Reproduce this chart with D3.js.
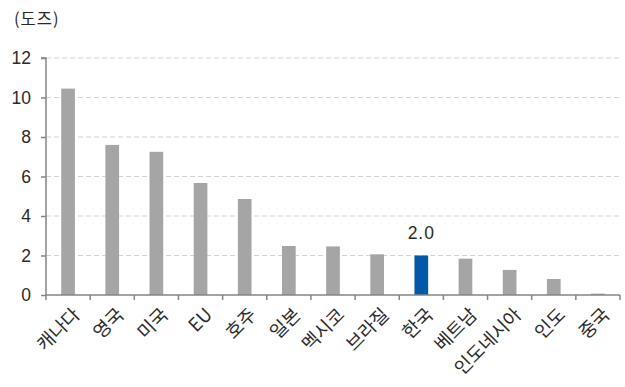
<!DOCTYPE html>
<html>
<head>
<meta charset="utf-8">
<script src="https://cdn.jsdelivr.net/npm/d3@7"></script>
<style>
  html, body { margin: 0; padding: 0; background: #fff; }
  svg { display: block; font-family: "Noto Sans CJK KR", "Noto Sans", sans-serif; }
</style>
</head>
<body>
<svg id="chart" width="625" height="387"></svg>
<script>
// Countries and doses secured per capita
const countries = ["캐나다", "영국", "미국", "EU", "호주", "일본", "멕시코", "브라질", "한국", "베트남", "인도네시아", "인도", "중국"];
const doses = [10.45, 7.6, 7.25, 5.67, 4.86, 2.48, 2.46, 2.06, 2.0, 1.84, 1.27, 0.81, 0.07];
const yTicks = [0, 2, 4, 6, 8, 10, 12];
const highlight = "한국";
const unitLabel = "(도즈)";

const svg = d3.select("#chart");
const plotLeft = 46, plotRight = 620, plotTop = 58, plotBase = 295;
const numFont = "Liberation Sans, Arial, sans-serif";
const textColor = "#2a2a2a";

const x = d3.scaleBand()
  .domain(countries)
  .range([plotLeft, plotRight])
  .paddingInner(0.69)
  .paddingOuter(0.345);

const y = d3.scaleLinear()
  .domain([0, 12])
  .range([plotBase, plotTop]);

// Dashed gridlines
svg.append("g")
  .selectAll("line")
  .data(yTicks.filter(d => d > 0))
  .join("line")
  .attr("x1", plotLeft)
  .attr("x2", plotRight)
  .attr("y1", d => y(d))
  .attr("y2", d => y(d))
  .attr("stroke", "#d4d4d4")
  .attr("stroke-width", 1.2)
  .attr("stroke-dasharray", "5,3");

// Bars
svg.append("g")
  .selectAll("rect")
  .data(countries.map((c, i) => ({ c, v: doses[i] })))
  .join("rect")
  .attr("x", d => x(d.c))
  .attr("width", x.bandwidth())
  .attr("y", d => y(d.v))
  .attr("height", d => y(0) - y(d.v))
  .attr("fill", d => d.c === highlight ? "#0059a9" : "#a5a5a5");

// Value label for highlighted bar
const hi = countries.indexOf(highlight);
svg.append("text")
  .attr("x", x(highlight) + x.bandwidth() / 2)
  .attr("y", y(doses[hi]) - 16.5)
  .attr("text-anchor", "middle")
  .attr("font-size", 17.5)
  .attr("letter-spacing", 1)
  .attr("font-family", numFont)
  .attr("fill", textColor)
  .text(doses[hi].toFixed(1));

// Y axis
const yAxis = d3.axisLeft(y).tickValues(yTicks).tickSize(5).tickPadding(10);
const gy = svg.append("g")
  .attr("transform", `translate(${plotLeft},0)`)
  .call(yAxis);
gy.select(".domain").attr("stroke", "#858585").attr("stroke-width", 1.5).attr("d", `M-5,${y(12)}H0V${y(0)}`);
gy.selectAll(".tick line").attr("stroke", "#858585").attr("stroke-width", 1.5);
gy.selectAll(".tick text")
  .attr("font-size", 17.5)
  .attr("fill", textColor)
  .attr("font-family", numFont);

// X axis with ticks on category boundaries
const step = x.step();
const boundaries = d3.range(countries.length + 1).map(i => plotLeft + i * step);
const gx = svg.append("g");
gx.append("line")
  .attr("x1", plotLeft)
  .attr("x2", plotRight)
  .attr("y1", y(0))
  .attr("y2", y(0))
  .attr("stroke", "#858585")
  .attr("stroke-width", 1.5);
gx.selectAll("line.tk")
  .data(boundaries)
  .join("line")
  .attr("class", "tk")
  .attr("x1", d => d)
  .attr("x2", d => d)
  .attr("y1", y(0))
  .attr("y2", y(0) + 5)
  .attr("stroke", "#858585")
  .attr("stroke-width", 1.5);

// Rotated category labels, ending just under each bar
gx.selectAll("text")
  .data(countries)
  .join("text")
  .attr("transform", d => `translate(${x(d) + x.bandwidth() / 2 + 1},${y(0) + 9}) rotate(-45)`)
  .attr("text-anchor", "end")
  .attr("dominant-baseline", "hanging")
  .attr("font-size", 18.5)
  .attr("fill", textColor)
  .text(d => d);

// Unit label
svg.append("text")
  .attr("x", 14)
  .attr("y", 25)
  .attr("font-size", 16.5)
  .attr("letter-spacing", 1)
  .attr("fill", textColor)
  .text(unitLabel);
</script>
</body>
</html>
